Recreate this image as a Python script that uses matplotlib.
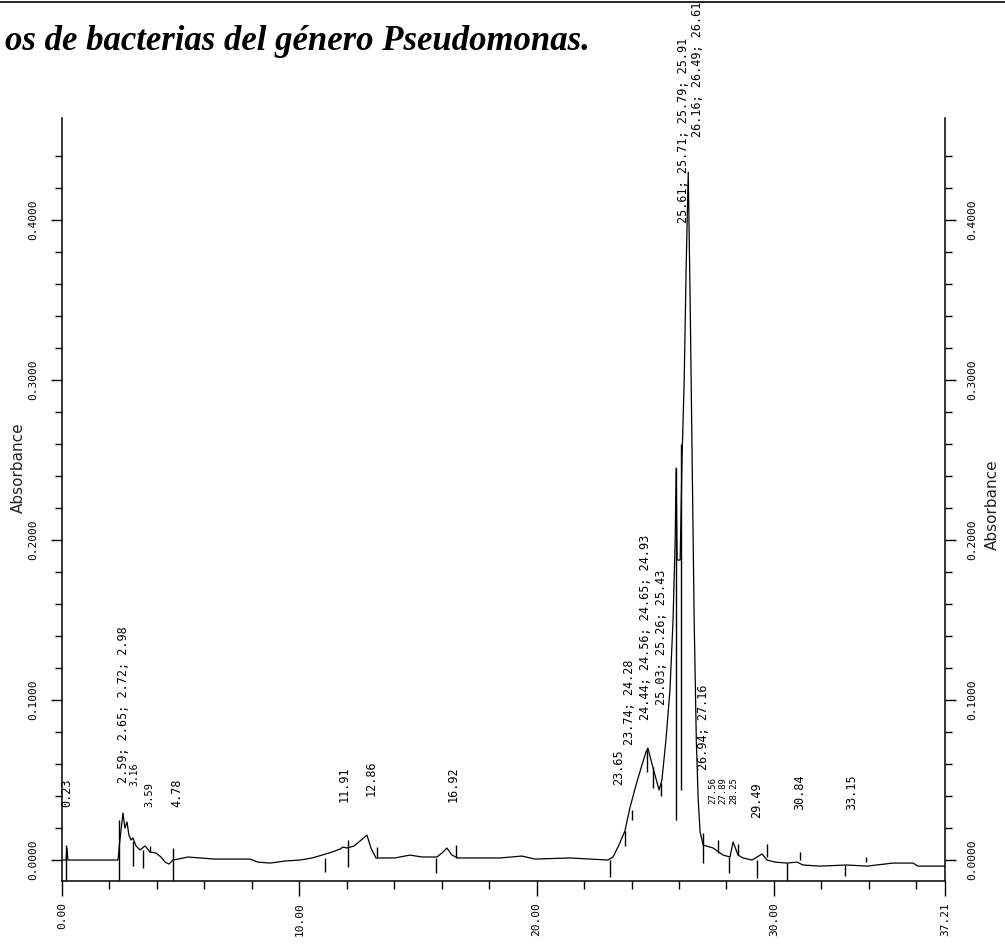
import numpy as np
import matplotlib.pyplot as plt
from matplotlib.lines import Line2D

# chromatogram trace (time in min, absorbance)
time = [0.00, 0.17, 0.21, 0.25, 2.36, 2.44, 2.57, 2.65, 2.74, 2.82, 2.91, 2.99,
        3.12, 3.29, 3.50, 3.71, 3.96, 4.17, 4.34, 4.51, 4.68, 4.89, 5.31, 5.82,
        6.45, 7.92, 8.26, 8.77, 9.40, 10.03, 10.54, 10.96, 11.38, 11.72, 11.84,
        12.01, 12.31, 12.56, 12.85, 13.02, 13.23, 14.03, 14.66, 15.17, 15.80,
        16.06, 16.22, 16.43, 16.69, 18.46, 19.38, 19.93, 21.41, 23.01, 23.22,
        23.47, 23.72, 23.93, 24.19, 24.40, 24.61, 24.69, 24.82, 24.99, 25.16,
        25.28, 25.45, 25.62, 25.75, 25.84, 25.88, 25.92, 26.05, 26.13, 26.22,
        26.30, 26.39, 26.47, 26.56, 26.64, 26.73, 26.81, 26.89, 27.02, 27.44,
        27.86, 28.15, 28.28, 28.49, 28.70, 29.08, 29.29, 29.50, 29.71, 30.05,
        30.55, 30.97, 31.23, 31.94, 33.08, 33.92, 35.02, 35.86, 36.07, 37.13,
        37.21]
absorbance = [0.0000, 0.0000, 0.0075, 0.0000, 0.0000, 0.0125, 0.0294, 0.0200,
              0.0238, 0.0156, 0.0125, 0.0138, 0.0088, 0.0063, 0.0088, 0.0050,
              0.0044, 0.0019, -0.0013, -0.0025, 0.0000, 0.0006, 0.0019, 0.0013,
              0.0006, 0.0006, -0.0013, -0.0019, -0.0006, 0.0000, 0.0013, 0.0031,
              0.0050, 0.0069, 0.0081, 0.0075, 0.0088, 0.0119, 0.0156, 0.0075,
              0.0013, 0.0013, 0.0031, 0.0019, 0.0019, 0.0050, 0.0075, 0.0031,
              0.0013, 0.0013, 0.0025, 0.0006, 0.0013, 0.0000, 0.0019, 0.0094,
              0.0181, 0.0325, 0.0469, 0.0575, 0.0675, 0.0700, 0.0625, 0.0531,
              0.0438, 0.0500, 0.0750, 0.1063, 0.1500, 0.2000, 0.2450, 0.1875,
              0.1875, 0.2519, 0.3000, 0.3688, 0.4300, 0.3500, 0.2438, 0.1500,
              0.0750, 0.0375, 0.0175, 0.0094, 0.0075, 0.0031, 0.0019, 0.0113,
              0.0031, 0.0013, 0.0000, 0.0019, 0.0038, 0.0000, -0.0013, -0.0019,
              -0.0013, -0.0031, -0.0038, -0.0031, -0.0038, -0.0019, -0.0019,
              -0.0038, -0.0038, -0.0038]

# integration event marks (time, top, bottom)
mark_t = [0.17, 2.40, 3.00, 3.42, 3.71, 4.68, 11.08, 12.05, 13.27, 15.76, 16.60,
          23.09, 23.72, 24.00, 24.65, 24.90, 25.26, 25.88, 26.10, 27.02, 27.65,
          28.10, 28.50, 29.30, 29.72, 30.55, 31.10, 33.00, 33.90]
mark_hi = [0.0094, 0.0250, 0.0120, 0.0060, 0.0090, 0.0075, 0.0013, 0.0125,
           0.0081, 0.0013, 0.0094, 0.0000, 0.0180, 0.0310, 0.0690, 0.0580,
           0.0480, 0.2450, 0.2600, 0.0170, 0.0125, 0.0020, 0.0100, 0.0000,
           0.0100, -0.0020, 0.0050, -0.0030, 0.0020]
mark_lo = [-0.0125, -0.0125, -0.0040, -0.0050, 0.0050, -0.0125, -0.0075,
           -0.0044, 0.0013, -0.0081, 0.0013, -0.0106, 0.0090, 0.0250, 0.0550,
           0.0450, 0.0400, 0.0250, 0.0440, -0.0020, 0.0044, -0.0080, 0.0030,
           -0.0110, 0.0020, -0.0130, 0.0000, -0.0100, -0.0010]

# retention time labels (anchor time, label bottom, text)
peak_t = [0.21, 2.61, 3.07, 3.66, 4.85, 11.88, 13.02, 16.48, 23.47, 23.93, 24.57,
          25.28, 26.21, 26.80, 27.05, 27.43, 27.86, 28.32, 29.29, 31.10, 33.29]
peak_base = [0.033, 0.048, 0.046, 0.033, 0.033, 0.036, 0.040, 0.036, 0.047,
             0.072, 0.0875, 0.097, 0.398, 0.452, 0.056, 0.035, 0.035, 0.035,
             0.026, 0.031, 0.031]
peak_txt = ["0.23", "2.59; 2.65; 2.72; 2.98", "3.16", "3.59", "4.78", "11.91",
            "12.86", "16.92", "23.65", "23.74; 24.28", "24.44; 24.56; 24.65; 24.93",
            "25.03; 25.26; 25.43", "25.61; 25.71; 25.79; 25.91",
            "26.16; 26.49; 26.61", "26.94; 27.16", "27.56", "27.89", "28.25",
            "29.49", "30.84", "33.15"]
peak_size = [8.5, 8.5, 7, 7.5, 8.5, 8.5, 8.5, 8.5, 8.5, 8.5, 8.5, 8.5, 8.5, 8.5,
             8.5, 6.5, 6.5, 6.5, 8.5, 8.5, 8.5]

xtick_vals = [0, 10, 20, 30, 37.21]
xtick_txt = ["0.00", "10.00", "20.00", "30.00", "37.21"]
ytick_vals = [0.0, 0.1, 0.2, 0.3, 0.4]
ytick_txt = ["0.0000", "0.1000", "0.2000", "0.3000", "0.4000"]

mono = "DejaVu Sans Mono"
W, H = 1005, 946

fig = plt.figure(figsize=(W / 100, H / 100), dpi=100)
ax = fig.add_axes([62 / W, 1 - 881 / H, (945 - 62) / W, (881 - 118) / H])

ax.plot(time, absorbance, color="black", lw=0.9)
ax.vlines(mark_t, mark_lo, mark_hi, color="black", lw=1.0)

for t, b, s, fs in zip(peak_t, peak_base, peak_txt, peak_size):
    ax.text(t, b, s, rotation=90, ha="center", va="bottom", fontsize=fs,
            family=mono, clip_on=False)

ax.set_xlim(0, 37.21)
ax.set_ylim(-0.0131, 0.4638)

ax.set_xticks(xtick_vals)
ax.set_xticklabels(xtick_txt, rotation=90, family=mono, fontsize=8)
ax.set_xticks(np.arange(2, 37, 2), minor=True)
ax.set_yticks(ytick_vals)
ax.set_yticklabels(ytick_txt, rotation=90, va="center", family=mono, fontsize=8)
ax.set_yticks(np.arange(0.02, 0.46, 0.02), minor=True)

ax.tick_params(axis="x", which="major", direction="out", length=11, width=1, pad=4)
ax.tick_params(axis="x", which="minor", direction="out", length=6, width=1)
ax.tick_params(axis="y", which="major", direction="out", length=8, width=1, pad=9)
ax.tick_params(axis="y", which="minor", direction="out", length=5, width=1)

for side in ["top", "right"]:
    ax.spines[side].set_visible(False)
for side in ["left", "bottom"]:
    ax.spines[side].set_linewidth(1.1)

ax2 = ax.twinx()
ax2.set_ylim(ax.get_ylim())
ax2.set_yticks(ytick_vals)
ax2.set_yticklabels(ytick_txt, rotation=90, va="center", family=mono, fontsize=8)
ax2.set_yticks(np.arange(0.02, 0.46, 0.02), minor=True)
ax2.tick_params(axis="y", which="major", direction="out", length=8, width=1, pad=8)
ax2.tick_params(axis="y", which="minor", direction="out", length=5, width=1)
for side in ["top", "left", "bottom"]:
    ax2.spines[side].set_visible(False)
ax2.spines["right"].set_linewidth(1.1)

fig.text(18 / W, 1 - 468 / H, "Absorbance", rotation=90, ha="center",
         va="center", fontsize=11, color="#222222")
fig.text(992 / W, 1 - 505 / H, "Absorbance", rotation=90, ha="center",
         va="center", fontsize=11, color="#222222")

fig.text(590 / W, 1 - 50 / H, "os de bacterias del género Pseudomonas.",
         ha="right", va="baseline", fontsize=25, family="Liberation Serif",
         weight="bold", style="italic")

fig.add_artist(Line2D([0, 1], [1 - 2 / H, 1 - 2 / H], transform=fig.transFigure,
                      color="black", lw=1.2))

fig.savefig("out.png", dpi=100)
